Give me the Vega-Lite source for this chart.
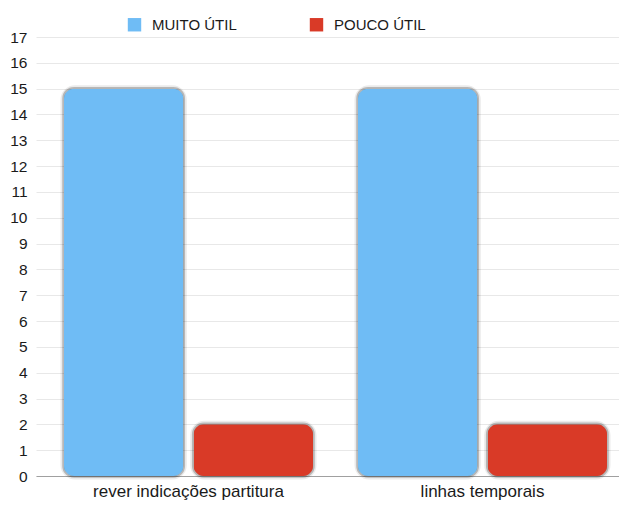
{
  "$schema": "https://vega.github.io/schema/vega-lite/v6.json",
  "width": 583,
  "height": 439,
  "autosize": {"type": "none"},
  "padding": {"left": 36, "top": 37, "right": 0, "bottom": 29},
  "background": "white",
  "config": {
    "font": "Liberation Sans",
    "view": {"stroke": null}
  },
  "data": {
    "values": [
      {"categoria": "rever indicações partitura", "serie": "MUITO ÚTIL", "valor": 15},
      {"categoria": "rever indicações partitura", "serie": "POUCO ÚTIL", "valor": 2},
      {"categoria": "linhas temporais", "serie": "MUITO ÚTIL", "valor": 15},
      {"categoria": "linhas temporais", "serie": "POUCO ÚTIL", "valor": 2}
    ]
  },
  "encoding": {
    "x": {
      "field": "categoria",
      "type": "nominal",
      "sort": ["rever indicações partitura", "linhas temporais"],
      "scale": {"paddingInner": 0.153, "paddingOuter": 0.068, "align": 0.7},
      "axis": {
        "title": null,
        "labelAngle": 0,
        "ticks": false,
        "domainColor": "#a0a0a0",
        "labelFontSize": 17,
        "labelColor": "#1a1a1a",
        "labelPadding": 7,
        "labelLimit": 0
      }
    },
    "xOffset": {
      "field": "serie",
      "type": "nominal",
      "scale": {"paddingInner": 0.08, "paddingOuter": 0}
    },
    "y": {
      "field": "valor",
      "type": "quantitative",
      "scale": {"domain": [0, 17], "nice": false},
      "axis": {
        "title": null,
        "values": [0,1,2,3,4,5,6,7,8,9,10,11,12,13,14,15,16,17],
        "ticks": false,
        "domain": false,
        "gridColor": "#e8e8e8",
        "labelFontSize": 15.5,
        "labelColor": "#1a1a1a",
        "labelPadding": 9
      }
    }
  },
  "layer": [
    {
      "mark": {"type": "bar", "cornerRadius": 11, "fillOpacity": 0, "stroke": "#000000", "strokeOpacity": 0.08, "strokeWidth": 7},
      "encoding": {}
    },
    {
      "mark": {"type": "bar", "cornerRadius": 10, "fillOpacity": 0, "stroke": "#000000", "strokeOpacity": 0.22, "strokeWidth": 3.5},
      "encoding": {}
    },
    {
      "mark": {"type": "bar", "cornerRadius": 10},
      "encoding": {
        "color": {
          "field": "serie",
          "type": "nominal",
          "scale": {"domain": ["MUITO ÚTIL", "POUCO ÚTIL"], "range": ["#6fbcf5", "#d93a27"]},
          "legend": {
            "title": null,
            "orient": "none",
            "direction": "horizontal",
            "legendX": 91,
            "legendY": -20,
            "symbolType": "square",
            "symbolSize": 180,
            "symbolStrokeWidth": 0,
            "symbolOpacity": 1,
            "labelFontSize": 15,
            "labelColor": "#1a1a1a",
            "labelOffset": 10,
            "columnPadding": 72
          }
        }
      }
    }
  ]
}
